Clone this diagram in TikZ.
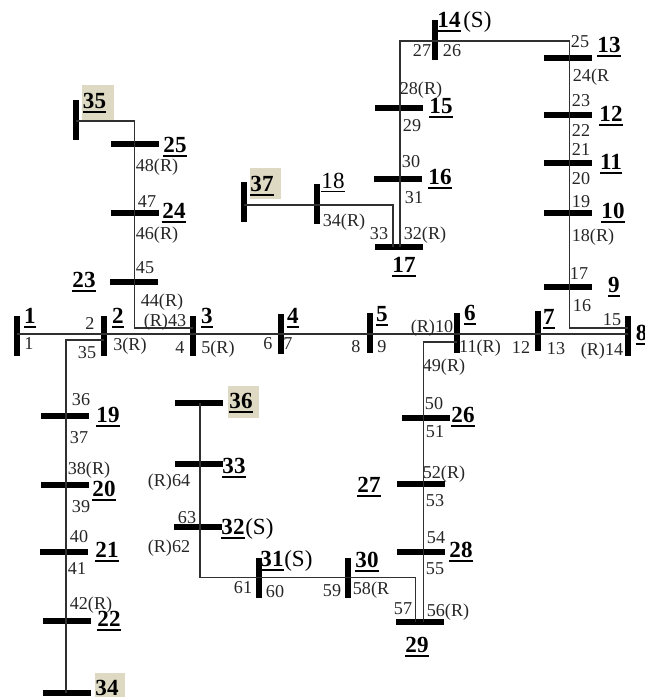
\documentclass[tikz,border=0pt]{standalone}
\usepackage{fontspec}
\setmainfont{Liberation Serif}
\definecolor{patch}{HTML}{DDD9C3}
\definecolor{wire}{HTML}{303030}
% bold underlined bus label
\newcommand\busul[1]{\setbox0\hbox{\bfseries #1}\rlap{\rule[-4.1pt]{\wd0}{2pt}}\box0}
\tikzset{
  x=0.75pt, y=-0.75pt,
  hbar/.style={draw=none, fill=black, inner sep=0pt, minimum width=36.5pt, minimum height=3.9pt},
  vbar/.style={draw=none, fill=black, inner sep=0pt, minimum width=3.9pt, minimum height=30pt},
  numlab/.style={anchor=base, inner sep=0pt, font=\fontsize{13.6}{14}\selectfont, text=black!85},
  buslab/.style={anchor=base, inner sep=0pt, font=\fontsize{17.3}{18}\selectfont},
  buslabw/.style={anchor=base west, inner sep=0pt, font=\fontsize{17.3}{18}\selectfont},
  wirel/.style={draw=wire, line width=1pt},
  bgpatch/.style={fill=patch, draw=none}
}
\newcommand\nl[4]{\node[numlab] (n#3) at (#1,#2) {#4};}
\newcommand\bl[3]{\node[buslab] (L#3) at (#1,#2) {\busul{#3}};}
\newcommand\hb[3]{\node[hbar] (b#3) at (#1,#2) {};}
\newcommand\vb[3]{\node[vbar] (b#3) at (#1,#2) {};}
\begin{document}
\begin{tikzpicture}
\useasboundingbox (0,0) rectangle (645,697);
% shaded patches
\fill[bgpatch] (82,85) rectangle (114,120);
\fill[bgpatch] (250,168) rectangle (281,199);
\fill[bgpatch] (228,386) rectangle (259,418);
\fill[bgpatch] (95,673) rectangle (125,697);
% buses
\vb{17}{336}{1}\vb{104}{336}{2}\vb{193}{336}{3}\vb{281}{334}{4}
\vb{370}{333}{5}\vb{457}{333}{6}\vb{538}{331}{7}\vb{628}{336}{8}
\hb{568}{287}{9}\hb{568}{213}{10}\hb{568}{163}{11}\hb{568}{115}{12}\hb{568}{58}{13}
\vb{435}{40}{14}\hb{399}{108}{15}\hb{398}{179}{16}\hb{399}{247}{17}
\vb{317}{204}{18}
\hb{65}{416}{19}\hb{65}{485}{20}\hb{64}{552}{21}\hb{67}{621}{22}
\hb{134}{282}{23}\hb{135}{213}{24}\hb{135}{144}{25}
\hb{426}{418}{26}\hb{421}{484}{27}\hb{421}{552}{28}\hb{420}{622}{29}
\vb{348}{578}{30}\vb{259}{578}{31}
\hb{198}{527}{32}\hb{199}{464}{33}\hb{67}{693}{34}
\vb{76}{120}{35}\hb{199}{403}{36}\vb{244}{202}{37}
% connectors
\coordinate (cm) at (17,334);
\coordinate (ca) at (134.5,328);
\coordinate (cb) at (134.5,121);
\coordinate (cc) at (66,340);
\coordinate (cd) at (200,577.5);
\coordinate (ce) at (415.5,577.5);
\coordinate (cf) at (423.5,342);
\coordinate (cg) at (569.5,328);
\coordinate (ch) at (569.5,41);
\coordinate (ci) at (400,41);
\coordinate (cj) at (393,205);
\draw[wirel] (cm) -- (b8.center |- cm);
\draw[wirel] (b3.center |- ca) -- (ca) -- (cb) -- (b35.center |- cb);
\draw[wirel] (b2.center |- cc) -- (cc) -- (cc |- b34.center);
\draw[wirel] (b36.center -| cd) -- (cd) -- (ce) -- (ce |- b29.center);
\draw[wirel] (b6.center |- cf) -- (cf) -- (cf |- b29.center);
\draw[wirel] (b8.center |- cg) -- (cg) -- (ch) -- (ci) -- (ci |- b17.center);
\draw[wirel] (b37.center |- cj) -- (cj) -- (cj |- b17.center);
% bus labels
\bl{30}{323}{1}\bl{118}{323}{2}\bl{207}{323}{3}\bl{293}{323}{4}
\bl{382}{321}{5}\bl{470}{320}{6}\bl{549}{324}{7}\bl{641.7}{340}{8}
\bl{614}{292}{9}\bl{613}{218}{10}\bl{611}{169}{11}\bl{611}{121}{12}\bl{609}{52}{13}
\bl{449}{27}{14}\bl{441}{113}{15}\bl{440}{184}{16}\bl{404}{272}{17}
\node[buslab] (L18) at (333,188) {\setbox0\hbox{18}\rlap{\rule[-3pt]{\wd0}{1.1pt}}\box0};
\bl{108}{422}{19}\bl{104}{496}{20}\bl{107}{557}{21}\bl{109}{626}{22}
\bl{84}{287}{23}\bl{174}{218}{24}\bl{175}{152}{25}
\bl{463}{422}{26}\bl{369}{492}{27}\bl{461}{557}{28}\bl{417}{652}{29}
\bl{367}{567}{30}\bl{272}{566}{31}\bl{233}{534}{32}\bl{234}{473}{33}
\bl{107}{695}{34}\bl{94.5}{108}{35}\bl{241}{408}{36}\bl{262}{191}{37}
\node[buslabw] (S14) at (463,27) {(S)};
\node[buslabw] (S32) at (245,534) {(S)};
\node[buslabw] (S31) at (284,566) {(S)};
% terminal numbers
\nl{29}{349}{p1}{1}\nl{90}{329}{p2}{2}\nl{130}{350}{p3}{3(R)}\nl{180}{353}{p4}{4}
\nl{218}{353}{p5}{5(R)}\nl{268}{349}{p6}{6}\nl{288}{349}{p7}{7}\nl{356}{352}{p8}{8}
\nl{382}{352}{p9}{9}\nl{432}{332}{p10}{(R)10}\nl{480}{352}{p11}{11(R)}\nl{521}{353}{p12}{12}
\nl{556}{354}{p13}{13}\nl{602}{355}{p14}{(R)14}\nl{612}{325}{p15}{15}\nl{582}{311}{p16}{16}
\nl{579}{279}{p17}{17}\nl{593}{241}{p18}{18(R)}\nl{581}{207}{p19}{19}\nl{581}{184}{p20}{20}
\nl{581}{155}{p21}{21}\nl{581}{136}{p22}{22}\nl{581}{106}{p23}{23}\nl{591}{81}{p24}{24(R}
\nl{580}{47}{p25}{25}\nl{452}{56}{p26}{26}\nl{422}{56}{p27}{27}\nl{421}{94}{p28}{28(R)}
\nl{412}{131}{p29}{29}\nl{411}{167}{p30}{30}\nl{414}{203}{p31}{31}\nl{425}{239}{p32}{32(R)}
\nl{379}{239}{p33}{33}\nl{344}{226}{p34}{34(R)}\nl{87}{358}{p35}{35}\nl{81}{405}{p36}{36}
\nl{79}{443}{p37}{37}\nl{89}{474}{p38}{38(R)}\nl{81}{512}{p39}{39}\nl{79}{542}{p40}{40}
\nl{77}{574}{p41}{41}\nl{91}{609}{p42}{42(R)}\nl{165}{326}{p43}{(R)43}\nl{162}{306}{p44}{44(R)}
\nl{145}{273}{p45}{45}\nl{157}{239}{p46}{46(R)}\nl{147}{207}{p47}{47}\nl{157}{171}{p48}{48(R)}
\nl{444}{371}{p49}{49(R)}\nl{434}{409}{p50}{50}\nl{435}{437}{p51}{51}\nl{444}{478}{p52}{52(R)}
\nl{435}{506}{p53}{53}\nl{436}{543}{p54}{54}\nl{435}{574}{p55}{55}\nl{448}{616}{p56}{56(R)}
\nl{403}{614}{p57}{57}\nl{371}{594}{p58}{58(R}\nl{332}{596}{p59}{59}\nl{275}{597}{p60}{60}
\nl{243}{593}{p61}{61}\nl{169}{552}{p62}{(R)62}\nl{187}{523}{p63}{63}\nl{169}{486}{p64}{(R)64}
\end{tikzpicture}
\end{document}
